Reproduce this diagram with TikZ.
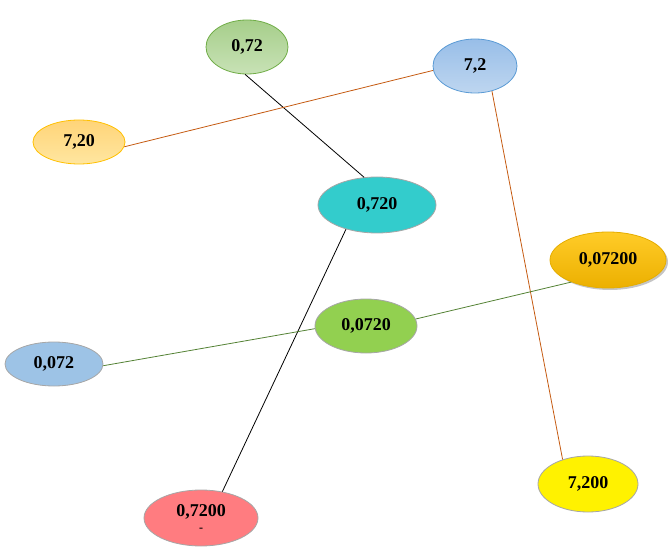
\documentclass[tikz,border=0pt]{standalone}
\usepackage{fontspec}
\setmainfont{Liberation Serif}
\usepackage{xcolor}
\definecolor{grnE}{HTML}{70AD47}
\definecolor{bluE}{HTML}{5B9BD5}
\definecolor{ambE}{HTML}{FFC000}
\definecolor{grey}{HTML}{A6A6A6}
\definecolor{rust}{HTML}{C55A11}
\definecolor{moss}{HTML}{548235}
\usetikzlibrary{shapes.geometric,shadows}
\tikzset{
  val/.style={ellipse,inner sep=0pt,line width=0.6pt,draw=grey,font=\fontsize{13.5}{14}\selectfont\bfseries,align=center},
  lnk/.style={line width=0.6pt},
}

\begin{document}
\begin{tikzpicture}[x=0.75pt,y=-0.75pt]
\useasboundingbox (0,0) rectangle (668,556);
% top row
\node[val,draw=grnE,top color={rgb,255:red,166;green,206;blue,138},bottom color={rgb,255:red,200;green,226;blue,182},minimum width=61.5pt,minimum height=40.5pt] (z72) at (247,47) {0,72};
\node[val,draw=bluE,top color={rgb,255:red,152;green,190;blue,232},bottom color={rgb,255:red,190;green,214;blue,240},minimum width=63pt,minimum height=40.5pt] (s72) at (475,66) {7,2};
\node[val,draw=ambE,top color={rgb,255:red,255;green,212;blue,120},bottom color={rgb,255:red,255;green,230;blue,160},minimum width=69pt,minimum height=33pt] (s720) at (79,142) {7,20};
% middle
\node[val,fill={rgb,255:red,51;green,204;blue,204},minimum width=88.5pt,minimum height=42pt] (z720) at (377,205) {0,720};
\node[val,draw=ambE!90!black,top color={rgb,255:red,255;green,204;blue,40},bottom color={rgb,255:red,236;green,176;blue,0},drop shadow={shadow xshift=1.5pt,shadow yshift=-1.5pt,fill=black!45},minimum width=87pt,minimum height=42pt] (zz7200) at (608,260) {0,07200};
\node[val,fill={rgb,255:red,146;green,208;blue,80},minimum width=76.5pt,minimum height=40.5pt] (zz720) at (366,326) {0,0720};
\node[val,fill={rgb,255:red,157;green,195;blue,230},minimum width=73.5pt,minimum height=33pt] (zz72) at (54,364) {0,072};
% bottom
\node[val,fill={rgb,255:red,255;green,124;blue,128},minimum width=85.5pt,minimum height=42pt] (z7200) at (201,518) {0,7200\\[-3pt]{\fontsize{9}{9}\selectfont -}};
\node[val,fill=yellow,minimum width=75pt,minimum height=42pt] (s7200) at (588,484) {7,200};

% links
\draw[lnk,black] (z72.266) -- (z720.115);
\draw[lnk,black] (z720.218) -- (z7200.51);
\draw[lnk,rust] (s72.186) -- (s720.354);
\draw[lnk,rust] (s72.304) -- (s7200.136);
\draw[lnk,moss] (zz72.358) -- (zz720.183);
\draw[lnk,moss] (zz720.8) -- (zz7200.211);
\end{tikzpicture}
\end{document}
